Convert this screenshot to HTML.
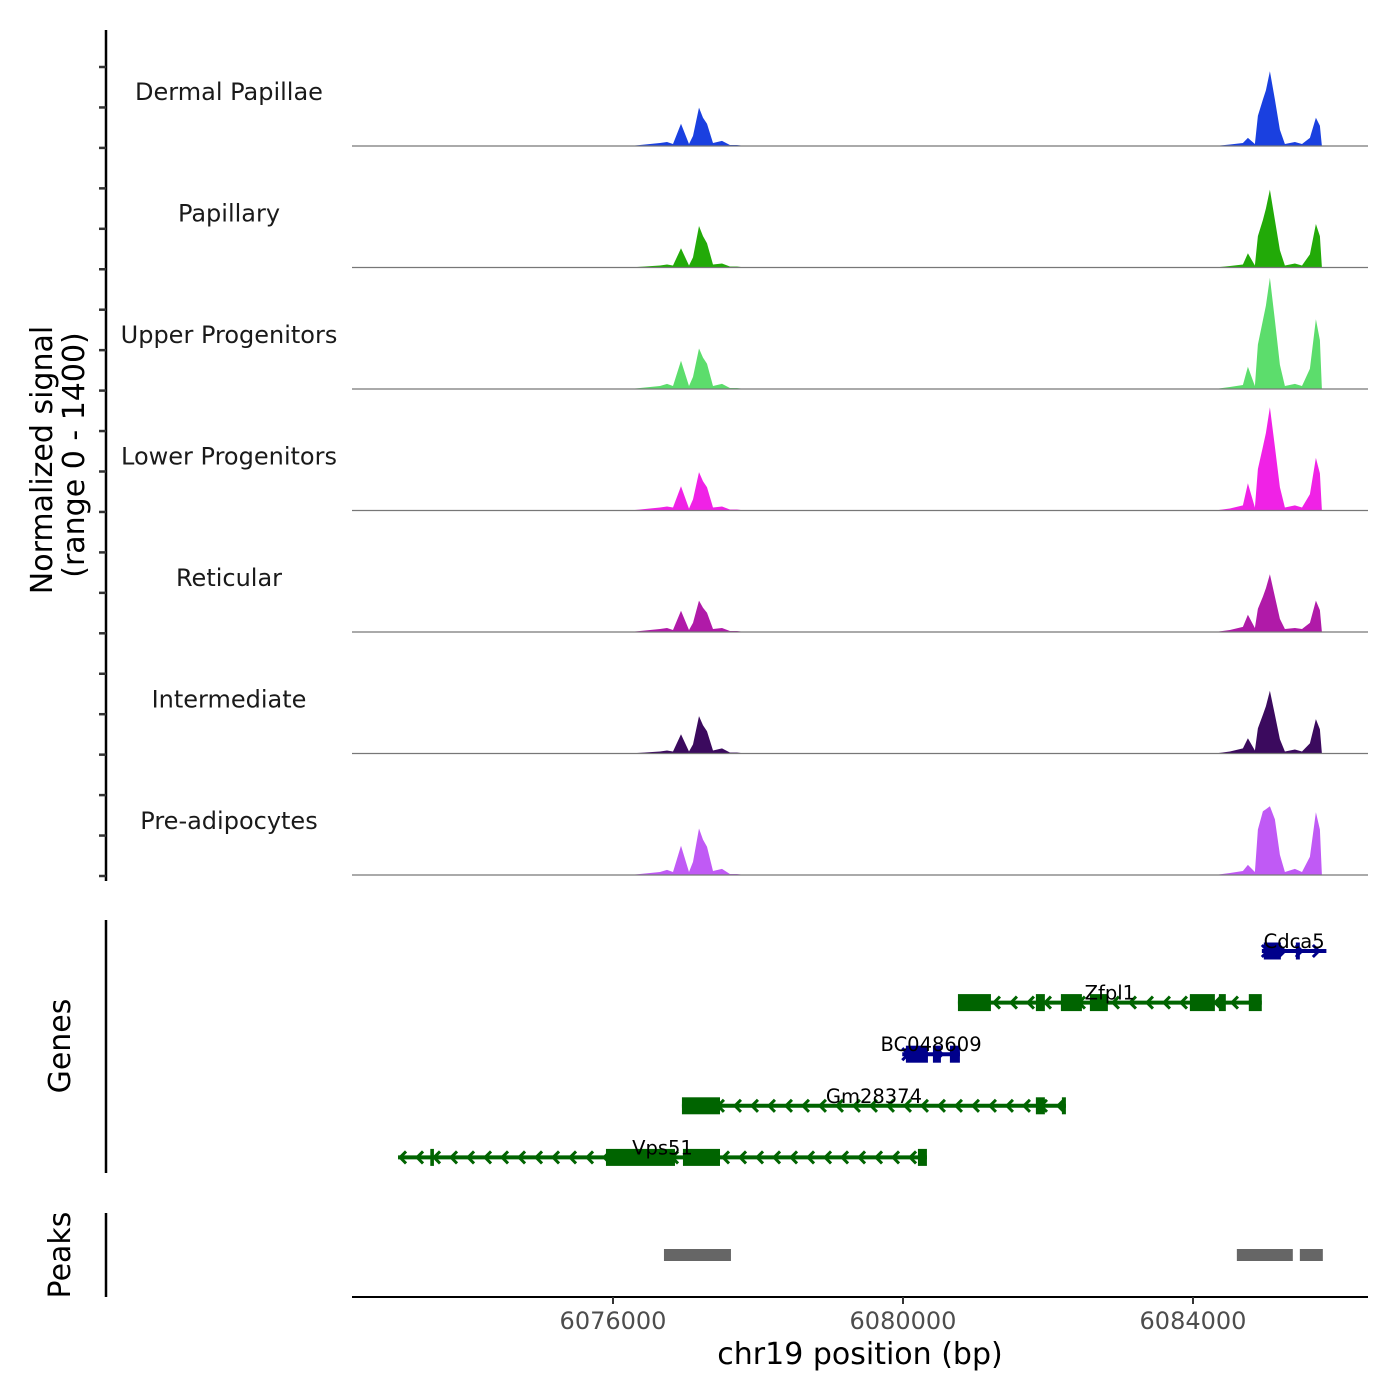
<!DOCTYPE html>
<html><head><meta charset="utf-8"><style>
body{margin:0;background:#fff}
svg{display:block;font-family:"DejaVu Sans","Liberation Sans",sans-serif}
</style></head><body>
<svg id="chart" width="1400" height="1400" viewBox="0 0 1400 1400">
<rect width="1400" height="1400" fill="#fff"/>
<g id="tracks"></g>
<g id="genes"></g>
<g id="peaks"></g>
<g id="axes">
<line x1="106" y1="30" x2="106" y2="881" stroke="#000" stroke-width="2.5"/>
<line x1="106" y1="920" x2="106" y2="1173" stroke="#000" stroke-width="2.5"/>
<line x1="106" y1="1213" x2="106" y2="1297" stroke="#000" stroke-width="2.5"/>
<line x1="352" y1="1297" x2="1368" y2="1297" stroke="#000" stroke-width="2"/>
<text transform="translate(52,460) rotate(-90)" text-anchor="middle" font-size="30">Normalized signal</text>
<text transform="translate(84,455) rotate(-90)" text-anchor="middle" font-size="30">(range 0 - 1400)</text>
<text transform="translate(70,1046) rotate(-90)" text-anchor="middle" font-size="30">Genes</text>
<text transform="translate(70,1255) rotate(-90)" text-anchor="middle" font-size="30">Peaks</text>
<text x="860" y="1364" text-anchor="middle" font-size="30">chr19 position (bp)</text>
</g>
</svg>
<script>
const xStart = 6072400, xEnd = 6086414;
const positions = [6072400,6076234,6076648,6076745,6076827,6076938,6077048,6077103,6077186,6077241,6077296,6077379,6077503,6077613,6077710,6077820,
 6084302,6084509,6084688,6084757,6084854,6084896,6084965,6085006,6085061,6085130,6085199,6085268,6085406,6085503,6085613,6085696,6085751,6085778,6086414];
const trackNames = ["Dermal Papillae","Papillary","Upper Progenitors","Lower Progenitors","Reticular","Intermediate","Pre-adipocytes"];
const trackColors = ["#1a40e0","#22aa08","#5cdd6c","#f022e6","#b01aa8","#3b0a5e","#c05af5"];
const sigDP  = [0,0,36,48,24,264,24,120,456,336,264,36,60,12,12,0, 0,18,36,96,24,360,552,660,888,552,192,24,48,24,96,336,240,0,0];
const sigPap = [0,0,24,36,24,228,24,120,492,372,288,36,48,12,12,0, 0,18,36,168,24,372,564,700,924,564,204,24,48,24,156,516,372,0,0];
const sigUP  = [0,0,36,60,36,336,36,144,480,372,300,36,60,12,12,0, 0,24,48,264,36,528,816,990,1320,816,288,36,60,36,240,828,580,0,0];
const sigLP  = [0,0,36,48,36,288,24,132,456,348,276,36,48,12,12,0, 0,24,60,324,36,492,756,920,1224,756,276,36,60,36,192,624,440,0,0];
const sigRet = [0,0,36,48,24,252,24,108,372,288,228,36,48,12,12,0, 0,24,60,204,48,276,420,520,684,420,156,36,48,36,108,372,260,0,0];
const sigInt = [0,0,24,36,24,228,24,108,444,336,264,36,60,12,12,0, 0,24,60,180,36,300,460,560,744,460,168,24,48,24,120,408,288,0,0];
const sigPre = [0,0,36,60,36,348,36,156,552,420,336,48,72,12,12,0, 0,24,48,120,36,540,756,780,816,660,240,36,72,36,216,744,540,0,0];
const signals = [sigDP,sigPap,sigUP,sigLP,sigRet,sigInt,sigPre];
const xTicks = [6076000,6080000,6084000];
const xTickLabels = ["6076000","6080000","6084000"];
const geneNames = ["Cdca5","Zfpl1","BC048609","Gm28374","Vps51"];
const geneStrand = ["+","-","+","-","-"];
const geneStart = [6084950,6080758,6079990,6076951,6073035];
const geneEnd = [6085840,6084949,6080785,6082247,6080330];
const geneExons = [
 [[6084977,6085212],[6085419,6085474]],
 [[6080758,6081213],[6081833,6081957],[6082178,6082468],[6082578,6082826],[6083957,6084302],[6084357,6084453],[6084770,6084949]],
 [[6080040,6080344],[6080413,6080523],[6080647,6080785]],
 [[6076951,6077476],[6081833,6081957],[6082192,6082247]],
 [[6073480,6073530],[6075903,6076855],[6076965,6077476],[6080206,6080330]]
];
const peakStart = [6076703,6084605,6085474];
const peakEnd = [6077627,6085377,6085791];

const NS="http://www.w3.org/2000/svg";
const X0=352, X1=1368;
function xs(bp){return X0+(bp-xStart)/(xEnd-xStart)*(X1-X0);}
const trackH=121.5, firstBase=146, pxPerUnit=118/1400;
function ys(v,i){return firstBase+i*trackH - v*pxPerUnit;}
function mk(tag,attrs,parent){const e=document.createElementNS(NS,tag);for(const k in attrs)e.setAttribute(k,attrs[k]);parent.appendChild(e);return e;}

const tracks=document.getElementById('tracks');
signals.forEach((sig,i)=>{
  const base=firstBase+i*trackH;
  let d="M"+xs(positions[0])+","+base;
  positions.forEach((p,j)=>{d+=" L"+xs(p).toFixed(1)+","+ys(sig[j],i).toFixed(1);});
  d+=" L"+xs(positions[positions.length-1])+","+base+" Z";
  const a=mk('path',{d:d,fill:trackColors[i]},tracks);
  
  
  const l=mk('line',{x1:X0,x2:X1,y1:base,y2:base,stroke:'#777','stroke-width':1.2},tracks);
  
  
  const t=mk('text',{x:229,y:base-46,'text-anchor':'middle','font-size':24,fill:'#1a1a1a'},tracks);
  t.textContent=trackNames[i];
  
  
});
const axes=document.getElementById('axes');
for(let k=0;k<21;k++){
  const y=67+k*40.45;
  const tk=mk('line',{x1:99,x2:106,y1:y,y2:y,stroke:'#333','stroke-width':2.5},axes);
  
  
}
xTicks.forEach((v,i)=>{
  const x=xs(v);
  const tk=mk('line',{x1:x,x2:x,y1:1297,y2:1304,stroke:'#333','stroke-width':2},axes);
  
  
  const t=mk('text',{x:x,y:1329,'text-anchor':'middle','font-size':24,fill:'#4d4d4d'},axes);
  t.textContent=xTickLabels[i];
  
  
});
const genes=document.getElementById('genes');
geneNames.forEach((g,i)=>{
  const y=951+i*51.6;
  const col=geneStrand[i]==='+'?'#00008b':'#006400';
  const grp=mk('g',{},genes);
  
  
  const x1=xs(geneStart[i]), x2=xs(geneEnd[i]);
  mk('line',{x1:x1,x2:x2,y1:y,y2:y,stroke:col,'stroke-width':4},grp);
  for(let x=x1+4;x<x2-4;x+=17){
    const dir=geneStrand[i]==='+'?1:-1;
    mk('polyline',{points:(x-4*dir)+","+(y-6)+" "+(x+2*dir)+","+y+" "+(x-4*dir)+","+(y+6),fill:'none',stroke:col,'stroke-width':3},grp);
  }
  geneExons[i].forEach(e=>{
    mk('rect',{x:xs(e[0]),y:y-8.5,width:Math.max(3,xs(e[1])-xs(e[0])),height:17,fill:col},grp);
  });
  const t=mk('text',{x:(x1+x2)/2,y:y-3,'text-anchor':'middle','font-size':19.5,fill:'#000'},grp);
  t.textContent=g;
  
  
});
const peaks=document.getElementById('peaks');
peakStart.forEach((s,i)=>{
  const r=mk('rect',{x:xs(s),y:1249,width:xs(peakEnd[i])-xs(s),height:12,fill:'#666'},peaks);
  
  
});
</script>
</body></html>
